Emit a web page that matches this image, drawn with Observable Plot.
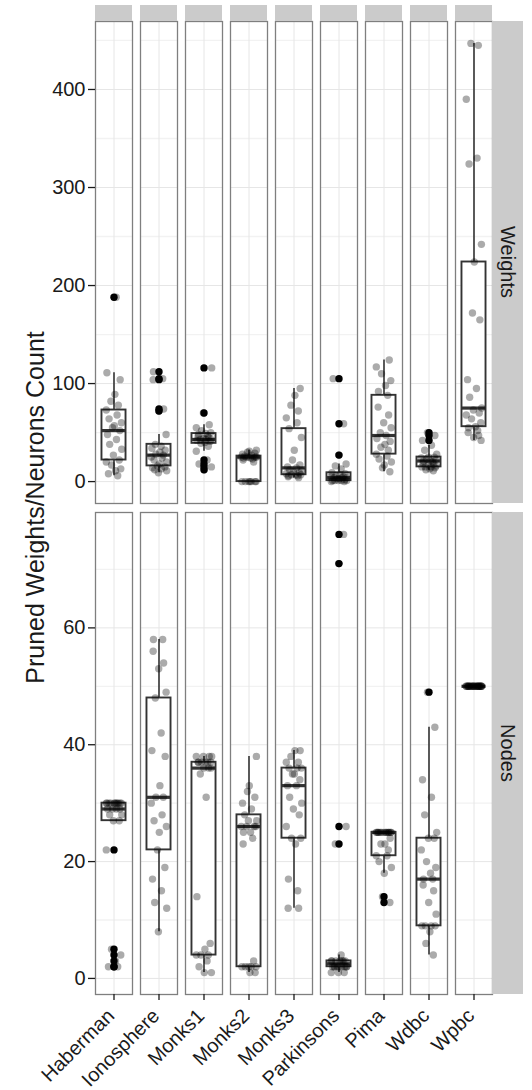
<!DOCTYPE html>
<html><head><meta charset="utf-8">
<script src="https://cdn.jsdelivr.net/npm/d3@7"></script>
<script src="https://cdn.jsdelivr.net/npm/@observablehq/plot@0.6"></script>
<style>
body{margin:0;background:#fff;}
#chart{position:relative;width:532px;height:1090px;font-family:"Liberation Sans",Arial,sans-serif;}
#chart svg{position:absolute;left:0;}
</style></head><body><div id="chart"></div>
<script>
const datasets = ["Haberman","Ionosphere","Monks1","Monks2","Monks3","Parkinsons","Pima","Wdbc","Wpbc"];
const rowLabels = ["Weights","Nodes"];
const yTitle = "Pruned Weights/Neurons Count";

// Pruned weights per run, one list per dataset (order as in datasets)
const weightsValues = [
  [6, 8, 11, 13, 17, 20, 22, 27, 33, 38, 43, 48, 52, 55, 57, 60, 64, 68, 73, 78, 82, 89, 104, 111, 188],
  [9, 11, 12, 13, 14, 15, 16, 18, 20, 22, 24, 25, 27, 28, 30, 32, 34, 36, 38, 48, 72, 74, 104, 105, 112],
  [12, 15, 18, 22, 31, 36, 39, 40, 41, 42, 43, 43, 43, 44, 45, 46, 47, 48, 49, 50, 52, 55, 58, 70, 116],
  [0, 0, 0, 0, 0, 0, 0, 20, 22, 23, 24, 24, 25, 25, 25, 25, 25, 25, 26, 27, 28, 29, 30, 31, 32],
  [4, 5, 6, 6, 7, 7, 7, 8, 9, 10, 11, 12, 14, 15, 17, 22, 32, 45, 54, 60, 65, 72, 78, 88, 95],
  [0, 0, 1, 1, 1, 1, 1, 2, 3, 3, 4, 4, 4, 5, 5, 6, 7, 8, 9, 13, 16, 18, 27, 59, 105],
  [10, 14, 17, 20, 23, 26, 28, 32, 35, 38, 41, 44, 47, 50, 55, 60, 68, 76, 88, 92, 98, 103, 110, 117, 124],
  [11, 12, 13, 14, 15, 15, 15, 16, 17, 18, 19, 20, 21, 21, 22, 23, 24, 25, 25, 28, 32, 37, 42, 47, 50],
  [42, 45, 47, 50, 52, 55, 56, 60, 64, 68, 70, 73, 75, 86, 95, 104, 165, 172, 224, 242, 324, 330, 390, 445, 447]
];
// Pruned neurons per run
const nodesValues = [
  [2, 2, 3, 4, 5, 22, 27, 27, 28, 28, 29, 29, 29, 29, 30, 30, 30, 30, 30, 30, 30, 30, 30, 30, 30],
  [8, 12, 13, 15, 17, 19, 22, 25, 26, 27, 28, 30, 31, 31, 33, 38, 39, 42, 48, 49, 53, 54, 56, 58, 58],
  [1, 1, 2, 3, 4, 4, 4, 5, 6, 14, 31, 35, 36, 36, 36, 37, 37, 37, 37, 37, 37, 38, 38, 38, 38],
  [1, 1, 2, 2, 2, 2, 2, 3, 23, 24, 25, 25, 26, 26, 26, 26, 27, 27, 28, 29, 30, 31, 32, 33, 38],
  [12, 12, 15, 17, 23, 24, 24, 26, 28, 29, 30, 31, 33, 33, 34, 35, 35, 36, 36, 36, 37, 37, 38, 39, 39],
  [1, 1, 1, 2, 2, 2, 2, 2, 2, 2, 2, 2, 3, 3, 3, 3, 3, 3, 3, 4, 23, 26, 71, 76],
  [13, 14, 18, 19, 20, 21, 21, 22, 23, 23, 24, 25, 25, 25, 25, 25, 25, 25, 25, 25, 25, 25, 25, 25, 25],
  [4, 6, 8, 9, 9, 9, 9, 11, 13, 15, 16, 17, 17, 18, 19, 20, 22, 24, 24, 25, 28, 31, 34, 43, 49],
  [50, 50, 50, 50, 50, 50, 50, 50, 50, 50, 50, 50, 50, 50, 50, 50, 50, 50, 50, 50, 50, 50, 50, 50, 50]
];
// horizontal jitter offsets (category units)
const jitterDx = [0.12, -0.18, 0.05, 0.22, -0.08, -0.25, 0.17, -0.02, 0.25, -0.14, 0.08, -0.21, 0.19, -0.05, 0.01, 0.24, -0.16, 0.10, -0.25, 0.14, -0.10, 0.03, 0.20, -0.23, 0.07, -0.12, 0.23, -0.01, 0.15, -0.19];

const weightsTicks = [0, 100, 200, 300, 400];
const weightsMinor = [50, 150, 250, 350, 450];
const nodesTicks = [0, 20, 40, 60];
const nodesMinor = [10, 30, 50, 70];

const FONT = '"Liberation Sans", Arial, Helvetica, sans-serif';
const W = 532;

function stats(values) {
  const s = values.slice().sort(d3.ascending);
  const q1 = d3.quantileSorted(s, 0.25), med = d3.quantileSorted(s, 0.5), q3 = d3.quantileSorted(s, 0.75);
  const iqr = q3 - q1, lo = q1 - 1.5 * iqr, hi = q3 + 1.5 * iqr;
  const inside = s.filter(v => v >= lo && v <= hi);
  return {q1, med, q3, wlo: d3.min(inside), whi: d3.max(inside), outliers: s.filter(v => v < lo || v > hi)};
}

function row({values, ticks, minor, height, marginTop, marginBottom, showX}) {
  const points = [], boxes = [], outs = [];
  datasets.forEach((name, k) => {
    const st = stats(values[k]);
    boxes.push({dataset: name, q1: st.q1, med: st.med, q3: st.q3, wlo: st.wlo, whi: st.whi});
    st.outliers.forEach(v => outs.push({dataset: name, value: v}));
    values[k].forEach((v, i) => points.push({dataset: name, value: v, dx: jitterDx[(i + k * 7) % jitterDx.length]}));
  });
  const all = values.flat();
  const lo = d3.min(all), hi = d3.max(all), pad = 0.05 * (hi - lo);
  return Plot.plot({
    width: W, height, marginTop, marginBottom, marginLeft: 92, marginRight: 36,
    style: {fontFamily: FONT, background: "transparent", overflow: "visible"},
    x: {domain: [0.4, 1.6], axis: null},
    y: {domain: [lo - pad, hi + pad], axis: null},
    fx: {domain: datasets, paddingInner: 0.17, paddingOuter: 0, axis: null, label: null},
    marks: [
      Plot.gridY(minor, {stroke: "#f2f2f2", strokeOpacity: 1, strokeWidth: 1.3}),
      Plot.gridY(ticks, {stroke: "#e6e6e6", strokeOpacity: 1, strokeWidth: 1}),
      Plot.ruleX([1], {stroke: "#e6e6e6", strokeWidth: 1}),
      Plot.ruleX(boxes, {fx: "dataset", x: () => 1, y1: "wlo", y2: "whi", stroke: "#333", strokeWidth: 1.6}),
      Plot.rect(boxes, {fx: "dataset", x1: () => 0.61, x2: () => 1.39, y1: "q1", y2: "q3", fill: "white", stroke: "#333", strokeWidth: 1.9}),
      Plot.ruleY(boxes, {fx: "dataset", y: "med", x1: () => 0.61, x2: () => 1.39, stroke: "#333", strokeWidth: 3.2}),
      Plot.dot(outs, {fx: "dataset", x: () => 1, y: "value", r: 3.7, fill: "black", stroke: "none"}),
      Plot.dot(points, {fx: "dataset", x: d => 1 + d.dx, y: "value", r: 3.7, fill: "black", fillOpacity: 0.33, stroke: "none"}),
      Plot.frame({stroke: "#7f7f7f", strokeWidth: 1.3}),
      Plot.axisY(ticks, {tickSize: 7, tickPadding: 3, fontSize: 20, label: null, color: "#1a1a1a", strokeWidth: 1.3}),
      showX ? Plot.axisFx({anchor: "bottom", tickSize: 6, tickFormat: () => "", label: null, color: "#1a1a1a", strokeWidth: 1.3}) : null,
      showX ? Plot.axisFx({anchor: "bottom", tickRotate: -45, tickSize: 0, tickPadding: 18, dx: -3, fontSize: 20, label: null, color: "#1a1a1a"}) : null
    ]
  });
}

const chart = document.getElementById("chart");
const rows = [
  {values: weightsValues, ticks: weightsTicks, minor: weightsMinor, height: 507, marginTop: 21, marginBottom: 4, showX: false, top: 0},
  {values: nodesValues, ticks: nodesTicks, minor: nodesMinor, height: 583, marginTop: 5, marginBottom: 96, showX: true, top: 507}
];
const plots = rows.map(r => {
  const p = row(r);
  p.style.top = r.top + "px";
  chart.appendChild(p);
  return p;
});

// overlay: facet strips and axis title
const ov = d3.select(chart).append("svg")
  .attr("width", W).attr("height", 1090)
  .style("top", "0px").style("pointer-events", "none")
  .attr("font-family", FONT);

const fx = plots[0].scale("fx");
const bw = fx.bandwidth;
const yTop = plots[0].scale("y").range;
// top (empty) strips
datasets.forEach(name => {
  const x0 = fx.apply(name);
  ov.append("rect").attr("x", x0).attr("y", d3.min(yTop) - 16).attr("width", bw).attr("height", 16).attr("fill", "#cbcbcb");
});
// right strips with row labels
const lastRight = fx.apply(datasets[datasets.length - 1]) + bw;
rows.forEach((r, i) => {
  const yr = plots[i].scale("y").range;
  const y0 = r.top + d3.min(yr), y1 = r.top + d3.max(yr);
  ov.append("rect").attr("x", lastRight).attr("y", y0).attr("width", 31).attr("height", y1 - y0).attr("fill", "#cbcbcb");
  ov.append("text").attr("transform", `translate(${lastRight + 15.5},${(y0 + y1) / 2}) rotate(90)`)
    .attr("text-anchor", "middle").attr("dominant-baseline", "central")
    .attr("font-size", 20).attr("fill", "#1a1a1a").text(rowLabels[i]);
});
// y axis title
const yr0 = plots[0].scale("y").range, yr1 = plots[1].scale("y").range;
const yc = (d3.min(yr0) + rows[1].top + d3.max(yr1)) / 2;
ov.append("text").attr("transform", `translate(35,${yc}) rotate(-90)`)
  .attr("text-anchor", "middle").attr("dominant-baseline", "central")
  .attr("font-size", 25).attr("fill", "#1a1a1a").text(yTitle);
</script></body></html>
